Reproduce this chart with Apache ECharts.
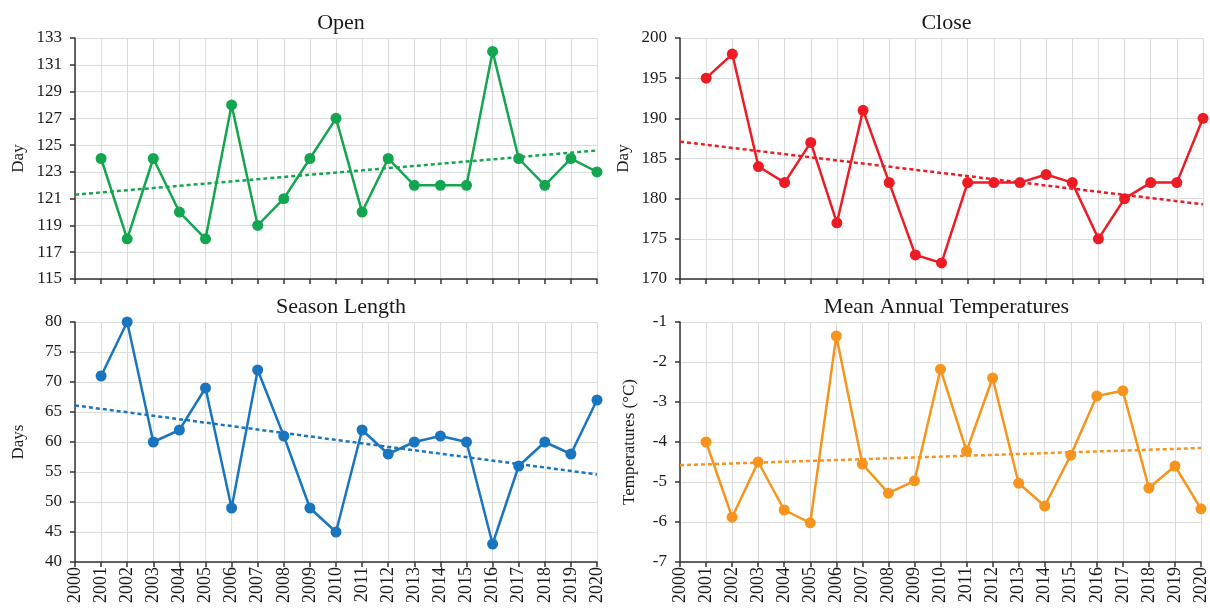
<!DOCTYPE html>
<html>
<head>
<meta charset="utf-8">
<script src="https://cdn.jsdelivr.net/npm/echarts@6/dist/echarts.min.js"></script>
<style>
  html, body { margin: 0; padding: 0; background: #fff; }
  #chart { width: 1210px; height: 610px; }
</style>
</head>
<body>
<div id="chart"></div>
<script>
// Years shown on the x axes
const years = [2001, 2002, 2003, 2004, 2005, 2006, 2007, 2008, 2009, 2010,
               2011, 2012, 2013, 2014, 2015, 2016, 2017, 2018, 2019, 2020];

// Day of year the season opens
const openDay = [124, 118, 124, 120, 118, 128, 119, 121, 124, 127,
                 120, 124, 122, 122, 122, 132, 124, 122, 124, 123];
// Day of year the season closes
const closeDay = [195, 198, 184, 182, 187, 177, 191, 182, 173, 172,
                  182, 182, 182, 183, 182, 175, 180, 182, 182, 190];
// Season length in days
const seasonLength = [71, 80, 60, 62, 69, 49, 72, 61, 49, 45,
                      62, 58, 60, 61, 60, 43, 56, 60, 58, 67];
// Mean annual temperature (°C)
const meanTemp = [-4.0, -5.88, -4.5, -5.7, -6.02, -1.35, -4.55, -5.28, -4.97, -2.18,
                  -4.23, -2.4, -5.03, -5.6, -4.33, -2.85, -2.72, -5.15, -4.6, -5.67];

// Linear trend values at 2000 and 2020
const trendYears = [2000, 2020];
const openTrend = [121.3, 124.6];
const closeTrend = [187.1, 179.3];
const seasonTrend = [66.1, 54.6];
const tempTrend = [-4.58, -4.15];

// Panel titles and y axis names
const titles = ['Open', 'Close', 'Season Length', 'Mean Annual Temperatures'];
const yNames = ['Day', 'Day', 'Days', 'Temperatures (°C)'];

const colors = ['#14a550', '#ed1c24', '#1a75bf', '#f7941d'];
const font = 'Liberation Serif, Times New Roman, serif';
const textColor = '#1a1a1a';

const grids = [
  { left: 75, right: 613, top: 38, height: 241 },
  { left: 680, right: 7, top: 38, height: 241 },
  { left: 75, right: 613, top: 322, height: 240 },
  { left: 680, right: 7, top: 322, height: 240 }
];

const yRanges = [
  { min: 115, max: 133, interval: 2 },
  { min: 170, max: 200, interval: 5 },
  { min: 40, max: 80, interval: 5 },
  { min: -7, max: -1, interval: 1 }
];
const yGaps = [48, 48, 48, 42];

const dataSets = [openDay, closeDay, seasonLength, meanTemp];
const trends = [openTrend, closeTrend, seasonTrend, tempTrend];

const pair = (xs, ys) => xs.map((x, i) => [x, ys[i]]);

const option = {
  backgroundColor: '#ffffff',
  animation: false,
  title: titles.map((t, i) => {
    const g = grids[i];
    const plotWidth = 1210 - g.left - g.right;
    return {
      text: t,
      left: g.left + plotWidth / 2,
      top: i < 2 ? 7 : 291,
      textAlign: 'center',
      textStyle: { fontFamily: font, fontSize: 22, fontWeight: 'normal', color: textColor }
    };
  }),
  grid: grids.map(g => Object.assign({ containLabel: false }, g)),
  xAxis: grids.map((g, i) => ({
    type: 'value',
    gridIndex: i,
    min: 2000,
    max: 2020,
    interval: 1,
    axisLine: { show: true, lineStyle: { color: '#333', width: 1.5 } },
    axisTick: { show: true, length: 5, lineStyle: { color: '#333', width: 1.5 } },
    axisLabel: {
      show: i >= 2,
      rotate: 90,
      margin: 5,
      formatter: v => String(v),
      fontFamily: font,
      fontSize: 18,
      color: textColor
    },
    splitLine: { show: true, lineStyle: { color: '#dcdcdc', width: 1 } }
  })),
  yAxis: grids.map((g, i) => ({
    type: 'value',
    gridIndex: i,
    min: yRanges[i].min,
    max: yRanges[i].max,
    interval: yRanges[i].interval,
    name: yNames[i],
    nameLocation: 'middle',
    nameGap: yGaps[i],
    nameTextStyle: { fontFamily: font, fontSize: 17, color: textColor },
    axisLine: { show: true, lineStyle: { color: '#333', width: 1.5 } },
    axisTick: { show: true, length: 5, lineStyle: { color: '#333', width: 1.5 } },
    axisLabel: { fontFamily: font, fontSize: 17, color: textColor, margin: 13 },
    splitLine: { show: true, lineStyle: { color: '#dcdcdc', width: 1 } }
  })),
  series: [].concat(
    dataSets.map((d, i) => ({
      type: 'line',
      xAxisIndex: i,
      yAxisIndex: i,
      data: pair(years, d),
      symbol: 'circle',
      symbolSize: 11,
      z: 3,
      lineStyle: { color: colors[i], width: 2.5 },
      itemStyle: { color: colors[i] }
    })),
    trends.map((t, i) => ({
      type: 'line',
      xAxisIndex: i,
      yAxisIndex: i,
      data: pair(trendYears, t),
      symbol: 'none',
      z: 2,
      lineStyle: { color: colors[i], width: 2.5, type: [4, 3] }
    }))
  )
};

const chart = echarts.init(document.getElementById('chart'), null, { renderer: 'canvas' });
chart.setOption(option);
</script>
</body>
</html>
